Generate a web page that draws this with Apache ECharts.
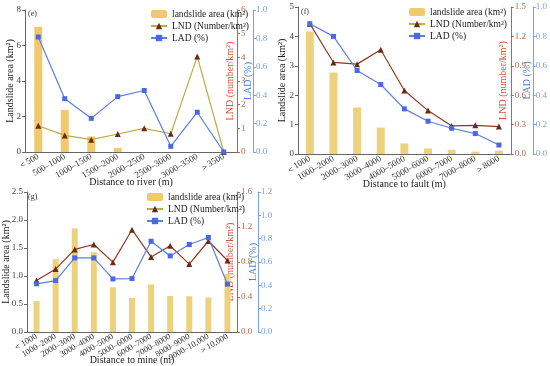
<!DOCTYPE html>
<html><head><meta charset="utf-8">
<script src="https://cdn.jsdelivr.net/npm/echarts@6/dist/echarts.min.js"></script>
<style>html,body{margin:0;padding:0;background:#fff}#c{width:550px;height:366px}</style>
</head><body><div id="c"></div>
<script>
// Panel (e): distance to river
const riverCats = ['＜500','500–1000','1000–1500','1500–2000','2000–2500','2500–3000','3000–3500','＞3500'];
const riverArea = [7.05, 2.37, 0.88, 0.22, 0.0, 0.0, 0.0, 0.0];
const riverLND = [1.11, 0.70, 0.52, 0.76, 1.0, 0.77, 4.03, 0.0];
const riverLAD = [0.81, 0.375, 0.237, 0.39, 0.433, 0.04, 0.28, 0.0];
// Panel (f): distance to fault
const faultCats = ['＜1000','1000–2000','2000–3000','3000–4000','4000–5000','5000–6000','6000–7000','7000–8000','＞8000'];
const faultArea = [4.17, 2.77, 1.58, 0.90, 0.36, 0.19, 0.14, 0.08, 0.11];
const faultLND = [1.33, 0.934, 0.917, 1.064, 0.648, 0.443, 0.286, 0.293, 0.28];
const faultLAD = [0.886, 0.80, 0.568, 0.473, 0.307, 0.223, 0.175, 0.139, 0.061];
// Panel (g): distance to mine
const mineCats = ['＜1000','1000–2000','2000–3000','3000–4000','4000–5000','5000–6000','6000–7000','7000–8000','8000–9000','9000–10,000','＞10,000'];
const mineArea = [0.55, 1.30, 1.85, 1.43, 0.80, 0.61, 0.85, 0.644, 0.638, 0.615, 1.04];
const mineLND = [0.588, 0.719, 0.944, 1.0, 0.798, 1.169, 0.858, 0.985, 0.776, 1.04, 0.817];
const mineLAD = [0.413, 0.441, 0.635, 0.635, 0.455, 0.458, 0.778, 0.652, 0.75, 0.81, 0.41];

const FONT = '"Times New Roman", "Liberation Serif", serif';
const lndColor = '#b5654a';
const ladColor = '#7aa0e6';
const axisGray = '#666';

function xAx(g, cats, name, gap, fs){
  return {type:'category', gridIndex:g, data:cats, boundaryGap:true,
    name:name, nameLocation:'middle', nameGap:gap, nameMoveOverlap:false,
    nameTextStyle:{fontFamily:FONT, fontSize:10, color:'#222'},
    axisLine:{lineStyle:{color:axisGray}}, axisTick:{show:false},
    axisLabel:{rotate:30, interval:0, fontFamily:FONT, fontSize:fs, color:'#333', margin:4}};
}
function yAx(g, min, max, step, dec, opts){
  const base = {type:'value', gridIndex:g, min:min, max:max, interval:step,
    splitLine:{show:false},
    axisLine:{show:true, lineStyle:{color:axisGray}},
    axisTick:{show:true, length:3, lineStyle:{color:axisGray}},
    axisLabel:{fontFamily:FONT, fontSize:9, color:'#444', margin:4, formatter:v=>v.toFixed(dec)},
    nameLocation:'middle', nameMoveOverlap:false,
    nameTextStyle:{fontFamily:FONT, fontSize:10, color:'#222'}};
  return Object.assign(base, opts||{});
}
function leftAx(g,min,max,step,dec,gap){
  return yAx(g,min,max,step,dec,{position:'left', name:'Landslide area (km²)', nameGap:gap});
}
function lndAx(g,min,max,step,dec){
  return yAx(g,min,max,step,dec,{position:'right', name:'LND (number/km²)', nameGap:-12,
    axisLine:{show:true,lineStyle:{color:lndColor}}, axisTick:{show:true,length:3,lineStyle:{color:lndColor}},
    axisLabel:{fontFamily:FONT, fontSize:9, color:lndColor, margin:4, formatter:v=>v.toFixed(dec)},
    nameTextStyle:{fontFamily:FONT, fontSize:10, color:'#d0533f'}});
}
function ladAx(g,min,max,step,dec,off){
  return yAx(g,min,max,step,dec,{position:'right', offset:off, name:'LAD (%)', nameGap:-10,
    axisLine:{show:true,lineStyle:{color:ladColor}}, axisTick:{show:true,length:3,lineStyle:{color:ladColor}},
    axisLabel:{fontFamily:FONT, fontSize:9, color:ladColor, margin:3, formatter:v=>v.toFixed(dec)},
    nameTextStyle:{fontFamily:FONT, fontSize:10, color:'#4f7fe0'}});
}
function barS(name, xi, yi, data, color, w){
  return {name:name, type:'bar', xAxisIndex:xi, yAxisIndex:yi, data:data, barWidth:w,
    itemStyle:{color:color}, z:1};
}
function lndS(xi, yi, data, lineColor){
  return {name:'LND (Number/km²)', type:'line', xAxisIndex:xi, yAxisIndex:yi, data:data,
    symbol:'triangle', symbolSize:6, lineStyle:{color:lineColor, width:1.2},
    itemStyle:{color:'#6b2a14'}, z:3};
}
function ladS(xi, yi, data){
  return {name:'LAD (%)', type:'line', xAxisIndex:xi, yAxisIndex:yi, data:data,
    symbol:'rect', symbolSize:5, lineStyle:{color:'#5b7fe3', width:1.2},
    itemStyle:{color:'#4a68e0'}, z:4};
}
function legend(left, top){
  return {left:left, top:top, orient:'vertical', itemGap:2, itemWidth:16, itemHeight:8,
    textStyle:{fontFamily:FONT, fontSize:9.5, color:'#222'}, padding:0,
    data:['landslide area (km²)','LND (Number/km²)','LAD (%)']};
}

const option = {
  animation:false,
  grid:[
    {left:25, top:10, width:212, height:142},
    {left:298, top:7, width:213, height:147},
    {left:25, top:192, width:212, height:142}
  ],
  xAxis:[
    xAx(0, riverCats, 'Distance to river (m)', 25, 9),
    xAx(1, faultCats, 'Distance to fault (m)', 25, 9),
    xAx(2, mineCats, 'Distance to mine (m)', 23, 8.5)
  ],
  yAxis:[
    leftAx(0,0,8,2,0,10), lndAx(0,0,6,1,0), ladAx(0,0,1,0.2,1,16),
    leftAx(1,0,5,1,0,11), lndAx(1,0,1.5,0.3,1), ladAx(1,0,1,0.2,1,22),
    leftAx(2,0,2.5,0.5,1,16), lndAx(2,0,1.6,0.4,1), ladAx(2,0,1.2,0.2,1,21)
  ],
  legend:[legend(150,9), legend(408,7), legend(146,192)],
  series:[
    barS('landslide area (km²)',0,0,riverArea,'#f0c96c',8),
    lndS(0,1,riverLND,'#b9ad45'),
    ladS(0,2,riverLAD),
    barS('landslide area (km²)',1,3,faultArea,'#ecd27c',8),
    lndS(1,4,faultLND,'#8e3b22'),
    ladS(1,5,faultLAD),
    barS('landslide area (km²)',2,6,mineArea,'#ecd27c',6),
    lndS(2,7,mineLND,'#8e3b22'),
    ladS(2,8,mineLAD)
  ],
  graphic:[
    {type:'text', left:28, top:10, style:{text:'(e)', font:'8px "Liberation Serif"', fill:'#333'}},
    {type:'text', left:301, top:8, style:{text:'(f)', font:'8px "Liberation Serif"', fill:'#333'}},
    {type:'text', left:28, top:193, style:{text:'(g)', font:'8px "Liberation Serif"', fill:'#333'}}
  ]
};
const chart = echarts.init(document.getElementById('c'), null, {renderer:'canvas'});
chart.setOption(option);
</script></body></html>
